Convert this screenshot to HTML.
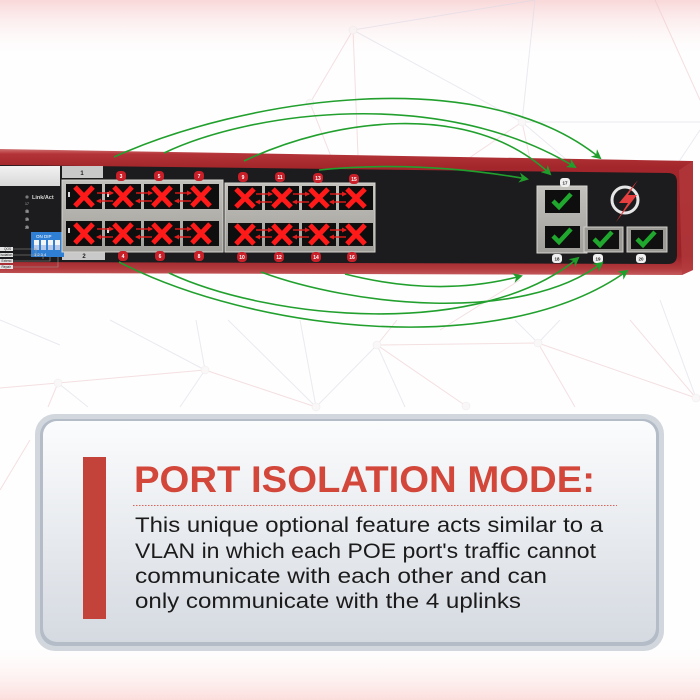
<!DOCTYPE html>
<html>
<head>
<meta charset="utf-8">
<style>
  html,body{margin:0;padding:0;background:#ffffff;}
  svg{display:block;}
</style>
</head>
<body>
<svg width="700" height="700" viewBox="0 0 700 700" xmlns="http://www.w3.org/2000/svg">
<defs>
  <linearGradient id="topg" x1="0" y1="0" x2="0" y2="1">
    <stop offset="0" stop-color="#f9d8d9"/>
    <stop offset="1" stop-color="#ffffff" stop-opacity="0"/>
  </linearGradient>
  <linearGradient id="botg" x1="0" y1="0" x2="0" y2="1">
    <stop offset="0" stop-color="#ffffff" stop-opacity="0"/>
    <stop offset="1" stop-color="#fbdedc"/>
  </linearGradient>
  <linearGradient id="redg" x1="0" y1="149" x2="0" y2="275" gradientUnits="userSpaceOnUse">
    <stop offset="0" stop-color="#d07070"/>
    <stop offset="0.04" stop-color="#b33338"/>
    <stop offset="0.15" stop-color="#a2262b"/>
    <stop offset="0.85" stop-color="#9b2227"/>
    <stop offset="0.95" stop-color="#b23a3d"/>
    <stop offset="1" stop-color="#c45a5c"/>
  </linearGradient>
  <linearGradient id="boxg" x1="0" y1="0" x2="0" y2="1">
    <stop offset="0" stop-color="#fbfcfd"/>
    <stop offset="1" stop-color="#d5dae1"/>
  </linearGradient>
  <linearGradient id="metal" x1="0" y1="0" x2="0" y2="1">
    <stop offset="0" stop-color="#c4c2bd"/>
    <stop offset="1" stop-color="#a09e99"/>
  </linearGradient>
  <linearGradient id="whiteb" x1="0" y1="0" x2="0" y2="1">
    <stop offset="0" stop-color="#f2f2f2"/>
    <stop offset="1" stop-color="#d8d8d8"/>
  </linearGradient>
  <marker id="ga" viewBox="0 0 10 10" refX="8" refY="5" markerWidth="10" markerHeight="10" markerUnits="userSpaceOnUse" orient="auto">
    <path d="M0,0 L10,5 L0,10 L3,5 Z" fill="#1f9e2b"/>
  </marker>
  <marker id="ra" viewBox="0 0 10 10" refX="8" refY="5" markerWidth="5" markerHeight="5" markerUnits="userSpaceOnUse" orient="auto">
    <path d="M0,0 L10,5 L0,10 Z" fill="#e41b1b"/>
  </marker>
</defs>

<!-- background -->
<rect x="0" y="0" width="700" height="700" fill="#fefefe"/>
<rect x="0" y="0" width="700" height="60" fill="url(#topg)"/>
<rect x="0" y="640" width="700" height="60" fill="url(#botg)"/>

<!-- network lines -->
<g stroke-width="1" fill="none" opacity="0.55">
  <g stroke="#ecc6ca">
    <line x1="353" y1="30" x2="310" y2="103"/>
    <line x1="310" y1="103" x2="350" y2="205"/>
    <line x1="353" y1="30" x2="360" y2="205"/>
    <line x1="522" y1="122" x2="400" y2="205"/>
    <line x1="522" y1="122" x2="540" y2="205"/>
    <line x1="655" y1="0" x2="700" y2="100"/>
    <line x1="0" y1="388" x2="58" y2="383"/>
    <line x1="58" y1="383" x2="205" y2="370"/>
    <line x1="205" y1="370" x2="316" y2="407"/>
    <line x1="377" y1="345" x2="538" y2="343"/>
    <line x1="377" y1="345" x2="466" y2="406"/>
    <line x1="377" y1="345" x2="397" y2="320"/>
    <line x1="538" y1="343" x2="696" y2="398"/>
    <line x1="538" y1="343" x2="575" y2="407"/>
    <line x1="630" y1="320" x2="696" y2="398"/>
    <line x1="58" y1="383" x2="48" y2="407"/>
    <line x1="30" y1="440" x2="0" y2="490"/>
    <line x1="520" y1="280" x2="440" y2="330"/>
  </g>
  <g stroke="#d9d9e6">
    <line x1="353" y1="30" x2="535" y2="0"/>
    <line x1="353" y1="30" x2="522" y2="122"/>
    <line x1="535" y1="0" x2="522" y2="122"/>
    <line x1="522" y1="122" x2="700" y2="122"/>
    <line x1="522" y1="122" x2="620" y2="205"/>
    <line x1="700" y1="130" x2="650" y2="205"/>
    <line x1="205" y1="370" x2="110" y2="320"/>
    <line x1="205" y1="370" x2="196" y2="320"/>
    <line x1="316" y1="407" x2="228" y2="320"/>
    <line x1="316" y1="407" x2="377" y2="345"/>
    <line x1="316" y1="407" x2="300" y2="320"/>
    <line x1="377" y1="345" x2="405" y2="407"/>
    <line x1="538" y1="343" x2="515" y2="320"/>
    <line x1="538" y1="343" x2="560" y2="320"/>
    <line x1="58" y1="383" x2="88" y2="407"/>
    <line x1="205" y1="370" x2="180" y2="407"/>
    <line x1="0" y1="320" x2="60" y2="345"/>
    <line x1="696" y1="398" x2="660" y2="300"/>
  </g>
  <g fill="#f6f2f2" stroke="#e6dede" stroke-width="0.6">
    <circle cx="353" cy="30" r="4"/>
    <circle cx="310" cy="103" r="4"/>
    <circle cx="522" cy="122" r="4"/>
    <circle cx="58" cy="383" r="4"/>
    <circle cx="205" cy="370" r="4"/>
    <circle cx="377" cy="345" r="4"/>
    <circle cx="538" cy="343" r="4"/>
    <circle cx="316" cy="407" r="4"/>
    <circle cx="466" cy="406" r="4"/>
    <circle cx="696" cy="398" r="4"/>
  </g>
</g>

<!-- switch chassis -->
<path d="M0,149 L693,161 L693,270 L682,275 L0,273 Z" fill="url(#redg)"/>
<path d="M679,170 L693,161 L693,270 L682,275 Z" fill="#b33a3d" opacity="0.7"/>
<path d="M0,165 L668,173 Q677,173 677,182 L677,255 Q677,264 668,264 L0,262 Z" fill="#1c1c1e"/>

<!-- left panel -->
<rect x="0" y="166" width="60" height="20" fill="url(#whiteb)"/>
<rect x="62" y="166" width="41" height="12" fill="#c9c9c9"/>
<text x="82" y="175" font-family="Liberation Sans, sans-serif" font-size="6" font-weight="bold" fill="#222" text-anchor="middle">1</text>
<rect x="62" y="250" width="43" height="10" fill="#c9c9c9"/>
<text x="84" y="258" font-family="Liberation Sans, sans-serif" font-size="6" font-weight="bold" fill="#222" text-anchor="middle">2</text>
<g fill="#7a7a7a">
  <circle cx="27" cy="197" r="1.6"/>
  <circle cx="27" cy="211" r="1.6"/>
  <circle cx="27" cy="219" r="1.6"/>
  <circle cx="27" cy="227" r="1.6"/>
</g>
<text x="32" y="199" font-family="Liberation Sans, sans-serif" font-size="5.5" font-weight="bold" fill="#d8d8d8">Link/Act</text>
<g font-family="Liberation Sans, sans-serif" font-size="3.5" fill="#bbbbbb">
  <text x="25" y="205">17</text>
  <text x="25" y="213">18</text>
  <text x="25" y="221">19</text>
  <text x="25" y="229">20</text>
</g>
<rect x="31" y="232" width="33" height="25" fill="#2f7fd4"/>
<text x="36" y="238" font-family="Liberation Sans, sans-serif" font-size="4.5" fill="#fff">ON  DIP</text>
<g fill="#f4f4f4">
  <rect x="34" y="240" width="5" height="10"/>
  <rect x="41" y="240" width="5" height="10"/>
  <rect x="48" y="240" width="5" height="10"/>
  <rect x="55" y="240" width="5" height="10"/>
</g>
<g fill="#b8c9e8">
  <rect x="34" y="245" width="5" height="5"/>
  <rect x="41" y="245" width="5" height="5"/>
  <rect x="48" y="245" width="5" height="5"/>
  <rect x="55" y="245" width="5" height="5"/>
</g>
<text x="34" y="256" font-family="Liberation Sans, sans-serif" font-size="4" fill="#fff">1 2 3 4</text>
<g stroke="#9a9a9a" stroke-width="0.6" fill="none">
  <polyline points="13,249 36,249 36,257"/>
  <polyline points="13,255 43,255 43,259 "/>
  <polyline points="13,261 50,261 50,257"/>
  <polyline points="13,267 58,267 58,257"/>
</g>
<g fill="#e4e4e4">
  <rect x="0" y="247" width="13" height="4"/>
  <rect x="0" y="253" width="13" height="4"/>
  <rect x="0" y="259" width="13" height="4"/>
  <rect x="0" y="265" width="13" height="4"/>
</g>
<g font-family="Liberation Sans, sans-serif" font-size="3.2" fill="#222">
  <text x="4" y="250.2">QOS</text>
  <text x="0.5" y="256.2">Isolation</text>
  <text x="1.5" y="262.2">Extend</text>
  <text x="1.5" y="268.2">Repair</text>
</g>

<!-- port block 1 -->
<rect x="62" y="180" width="161" height="72" fill="url(#metal)" stroke="#d6d4cf" stroke-width="1"/>
<g fill="#0e0e0e">
  <rect x="66" y="184" width="36" height="25"/>
  <rect x="105" y="184" width="36" height="25"/>
  <rect x="144" y="184" width="36" height="25"/>
  <rect x="183" y="184" width="36" height="25"/>
  <rect x="66" y="221" width="36" height="25"/>
  <rect x="105" y="221" width="36" height="25"/>
  <rect x="144" y="221" width="36" height="25"/>
  <rect x="183" y="221" width="36" height="25"/>
</g>
<!-- port block 2 -->
<rect x="225" y="183" width="150" height="69" fill="url(#metal)" stroke="#d6d4cf" stroke-width="1"/>
<g fill="#0e0e0e">
  <rect x="228" y="186" width="34" height="24"/>
  <rect x="265" y="186" width="34" height="24"/>
  <rect x="302" y="186" width="34" height="24"/>
  <rect x="339" y="186" width="34" height="24"/>
  <rect x="228" y="223" width="34" height="23"/>
  <rect x="265" y="223" width="34" height="23"/>
  <rect x="302" y="223" width="34" height="23"/>
  <rect x="339" y="223" width="34" height="23"/>
</g>
<g fill="#d8d8d8">
  <rect x="68" y="192" width="2" height="5"/>
  <rect x="68" y="228" width="2" height="5"/>
  <rect x="107" y="192" width="2" height="5"/>
  <rect x="107" y="228" width="2" height="5"/>
</g>

<!-- red X marks -->
<g stroke="#ff1a1a" stroke-width="5" fill="none">
  <path d="M75,187 L93,206 M93,187 L75,206"/>
  <path d="M114,187 L132,206 M132,187 L114,206"/>
  <path d="M153,187 L171,206 M171,187 L153,206"/>
  <path d="M192,187 L210,206 M210,187 L192,206"/>
  <path d="M75,224 L93,243 M93,224 L75,243"/>
  <path d="M114,224 L132,243 M132,224 L114,243"/>
  <path d="M153,224 L171,243 M171,224 L153,243"/>
  <path d="M192,224 L210,243 M210,224 L192,243"/>
  <path d="M236,189 L254,207 M254,189 L236,207"/>
  <path d="M273,189 L291,207 M291,189 L273,207"/>
  <path d="M310,189 L328,207 M328,189 L310,207"/>
  <path d="M347,189 L365,207 M365,189 L347,207"/>
  <path d="M236,225 L254,244 M254,225 L236,244"/>
  <path d="M273,225 L291,244 M291,225 L273,244"/>
  <path d="M310,225 L328,244 M328,225 L310,244"/>
  <path d="M347,225 L365,244 M365,225 L347,244"/>
</g>
<!-- red small arrows -->
<g stroke="#e41b1b" stroke-width="1.4" fill="none">
  <line x1="97" y1="193" x2="113" y2="193" marker-end="url(#ra)"/>
  <line x1="113" y1="201" x2="97" y2="201" marker-end="url(#ra)"/>
  <line x1="136" y1="193" x2="152" y2="193" marker-end="url(#ra)"/>
  <line x1="152" y1="201" x2="136" y2="201" marker-end="url(#ra)"/>
  <line x1="175" y1="193" x2="191" y2="193" marker-end="url(#ra)"/>
  <line x1="191" y1="201" x2="175" y2="201" marker-end="url(#ra)"/>
  <line x1="97" y1="229" x2="113" y2="229" marker-end="url(#ra)"/>
  <line x1="113" y1="237" x2="97" y2="237" marker-end="url(#ra)"/>
  <line x1="136" y1="229" x2="152" y2="229" marker-end="url(#ra)"/>
  <line x1="152" y1="237" x2="136" y2="237" marker-end="url(#ra)"/>
  <line x1="175" y1="229" x2="191" y2="229" marker-end="url(#ra)"/>
  <line x1="191" y1="237" x2="175" y2="237" marker-end="url(#ra)"/>
  <line x1="256" y1="194" x2="272" y2="194" marker-end="url(#ra)"/>
  <line x1="272" y1="202" x2="256" y2="202" marker-end="url(#ra)"/>
  <line x1="293" y1="194" x2="309" y2="194" marker-end="url(#ra)"/>
  <line x1="309" y1="202" x2="293" y2="202" marker-end="url(#ra)"/>
  <line x1="330" y1="194" x2="346" y2="194" marker-end="url(#ra)"/>
  <line x1="346" y1="202" x2="330" y2="202" marker-end="url(#ra)"/>
  <line x1="256" y1="230" x2="272" y2="230" marker-end="url(#ra)"/>
  <line x1="272" y1="237" x2="256" y2="237" marker-end="url(#ra)"/>
  <line x1="293" y1="230" x2="309" y2="230" marker-end="url(#ra)"/>
  <line x1="309" y1="237" x2="293" y2="237" marker-end="url(#ra)"/>
  <line x1="330" y1="230" x2="346" y2="230" marker-end="url(#ra)"/>
  <line x1="346" y1="237" x2="330" y2="237" marker-end="url(#ra)"/>
</g>

<!-- red number badges -->
<g fill="#c81f29">
  <rect x="116" y="171" width="10" height="10" rx="4"/>
  <rect x="154" y="171" width="10" height="10" rx="4"/>
  <rect x="194" y="171" width="10" height="10" rx="4"/>
  <rect x="238" y="172" width="10" height="10" rx="4"/>
  <rect x="275" y="172" width="10" height="10" rx="4"/>
  <rect x="313" y="173" width="10" height="10" rx="4"/>
  <rect x="349" y="174" width="10" height="10" rx="4"/>
  <rect x="118" y="251" width="10" height="10" rx="4"/>
  <rect x="155" y="251" width="10" height="10" rx="4"/>
  <rect x="194" y="251" width="10" height="10" rx="4"/>
  <rect x="237" y="252" width="10" height="10" rx="4"/>
  <rect x="274" y="252" width="10" height="10" rx="4"/>
  <rect x="311" y="252" width="10" height="10" rx="4"/>
  <rect x="347" y="252" width="10" height="10" rx="4"/>
</g>
<g font-family="Liberation Sans, sans-serif" font-size="5" font-weight="bold" fill="#ffffff" text-anchor="middle">
  <text x="121" y="178">3</text>
  <text x="159" y="178">5</text>
  <text x="199" y="178">7</text>
  <text x="243" y="179">9</text>
  <text x="280" y="179">11</text>
  <text x="318" y="180">13</text>
  <text x="354" y="181">15</text>
  <text x="123" y="258">4</text>
  <text x="160" y="258">6</text>
  <text x="199" y="258">8</text>
  <text x="242" y="259">10</text>
  <text x="279" y="259">12</text>
  <text x="316" y="259">14</text>
  <text x="352" y="259">16</text>
</g>

<!-- uplinks -->
<rect x="537" y="186" width="50" height="67" fill="url(#metal)" stroke="#d6d4cf" stroke-width="1"/>
<rect x="545" y="190" width="35" height="23" fill="#0e0e0e"/>
<rect x="545" y="226" width="35" height="22" fill="#0e0e0e"/>
<rect x="584" y="227" width="39" height="25" fill="#9c9a95" stroke="#cfcdc8" stroke-width="1"/>
<rect x="588" y="230" width="31" height="19" fill="#101010"/>
<rect x="627" y="227" width="40" height="25" fill="#9c9a95" stroke="#cfcdc8" stroke-width="1"/>
<rect x="631" y="230" width="32" height="19" fill="#101010"/>
<g fill="#f0f0f0">
  <rect x="560" y="178" width="10" height="9" rx="3"/>
  <rect x="552" y="254" width="10" height="9" rx="3"/>
  <rect x="593" y="254" width="10" height="9" rx="3"/>
  <rect x="636" y="254" width="10" height="9" rx="3"/>
</g>
<g font-family="Liberation Sans, sans-serif" font-size="4.5" font-weight="bold" fill="#222" text-anchor="middle">
  <text x="565" y="184.5">17</text>
  <text x="557" y="260.5">18</text>
  <text x="598" y="260.5">19</text>
  <text x="641" y="260.5">20</text>
</g>
<g stroke="#1fa82d" stroke-width="4.5" fill="none" stroke-linecap="butt">
  <polyline points="553,201 559,207 571,194"/>
  <polyline points="553,236 559,242 571,229"/>
  <polyline points="594,239 600,245 612,232"/>
  <polyline points="637,239 643,245 655,232"/>
</g>
<!-- logo -->
<circle cx="625" cy="200" r="13" fill="none" stroke="#e6e6e6" stroke-width="3"/>
<path d="M638,180 L619,203 L628,203 L616,222 L637,195 L628,195 Z" fill="#e5403f"/>

<!-- green arcs -->
<g stroke="#22a02e" stroke-width="1.6" fill="none" marker-end="url(#ga)">
  <path d="M114,157 C240,100 480,60 600,158"/>
  <path d="M164,153 C250,112 440,85 575,167"/>
  <path d="M244,161 C330,120 470,98 550,174"/>
  <path d="M319,170 Q420,160 527,179"/>
  <path d="M119,262 C250,330 500,362 627,271"/>
  <path d="M169,273 C270,320 480,340 578,258"/>
  <path d="M261,272 C350,305 520,325 602,263"/>
  <path d="M345,274 Q440,298 521,276"/>
</g>

<!-- text box -->
<rect x="35" y="414" width="629" height="237" rx="20" fill="#d2d7de"/>
<rect x="40" y="419" width="619" height="227" rx="16" fill="#b3bcc7"/>
<rect x="43" y="421" width="613" height="221" rx="14" fill="url(#boxg)"/>
<rect x="83" y="457" width="23" height="162" fill="#c3433b"/>
<text x="134" y="492" font-family="Liberation Sans, sans-serif" font-weight="bold" font-size="37" fill="#d3473b" textLength="461" lengthAdjust="spacingAndGlyphs">PORT ISOLATION MODE:</text>
<line x1="133" y1="505.5" x2="617" y2="505.5" stroke="#d9645a" stroke-width="1" stroke-dasharray="1.5,1.5"/>
<g font-family="Liberation Sans, sans-serif" font-size="21" fill="#1b1b1b">
  <text x="135" y="532" textLength="468" lengthAdjust="spacingAndGlyphs">This unique optional feature acts similar to a</text>
  <text x="135" y="558" textLength="461" lengthAdjust="spacingAndGlyphs">VLAN in which each POE port's traffic cannot</text>
  <text x="135" y="583" textLength="412" lengthAdjust="spacingAndGlyphs">communicate with each other and can</text>
  <text x="135" y="608" textLength="386" lengthAdjust="spacingAndGlyphs">only communicate with the 4 uplinks</text>
</g>
</svg>
</body>
</html>
